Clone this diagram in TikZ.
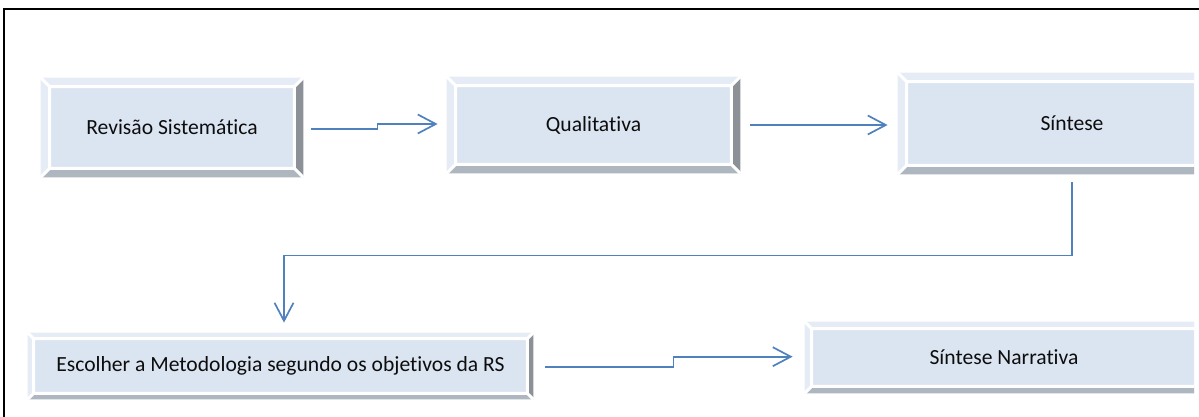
\documentclass[tikz,border=0pt]{standalone}
\usepackage{fontspec}
\setmainfont{Carlito}[Ligatures=NoCommon]
\usepackage{xcolor}
\usepackage{tikz}
\usetikzlibrary{arrows.meta,calc}
\definecolor{face}{HTML}{DBE5F1}
\definecolor{bevlt}{HTML}{E6ECF5}
\definecolor{bevgr}{HTML}{AEB6BF}
\definecolor{bevdk}{HTML}{8C9198}
\definecolor{arrblue}{HTML}{4F81BD}
\tikzset{
  box/.style={fill=face,inner sep=2pt,align=center,font=\fontsize{10.8}{13}\selectfont,text=black!95},
  arr/.style={-{Straight Barb[length=9pt,width=9.5pt]},line width=0.85pt,arrblue},
  bevline/.style={white,line width=1.5pt},
  frame/.style={black,line width=1pt},
}
\begin{document}
\begin{tikzpicture}[x=1pt,y=-1pt]
  \useasboundingbox (0,0) rectangle (599.5,208.5);
  \draw[frame] (2,208.5) |- (599.5,4.5);
  \begin{scope}
    \clip (0,0) rectangle (597,208.5);
    \node[box,minimum width=131pt,minimum height=49.5pt] (rs) at (86,63.75) {Revisão Sistemática};
    \node[box,minimum width=146.5pt,minimum height=48pt] (ql) at (296.75,62.5) {Qualitativa};
    \node[box,minimum width=174pt,minimum height=50.5pt] (sn) at (536,61.75) {Síntese};
    \node[box,minimum width=252.5pt,minimum height=33pt] (esc) at (140.25,183) {Escolher a Metodologia segundo os objetivos da RS};
    \node[box,minimum width=199pt,minimum height=35.5pt] (nar) at (502,178.75) {Síntese Narrativa};
    % bevel edges round each box
    \foreach \n/\b in {rs/4.5,ql/4.5,sn/4.5,esc/3,nar/3.5}{
      \coordinate (i1) at ($(\n.north west)+(\b,\b)$);
      \coordinate (i2) at ($(\n.north east)+(-\b,\b)$);
      \coordinate (i3) at ($(\n.south east)+(-\b,-\b)$);
      \coordinate (i4) at ($(\n.south west)+(\b,-\b)$);
      \fill[bevlt] (\n.north west) -- (\n.north east) -- (i2) -- (i1) -- cycle;
      \fill[bevlt] (\n.north west) -- (i1) -- (i4) -- (\n.south west) -- cycle;
      \fill[bevgr] (\n.south west) -- (i4) -- (i3) -- (\n.south east) -- cycle;
      \fill[bevdk] (\n.north east) -- (\n.south east) -- (i3) -- (i2) -- cycle;
      \draw[bevline] (i1) rectangle (i3) (\n.north west) -- (i1) (\n.north east) -- (i2)
        (\n.south east) -- (i3) (\n.south west) -- (i4);
    }
  \end{scope}
  \draw[arr] ($(rs.east)+(4,0.75)$) -- ++(33,0) |- ($(ql.west)+(-4.5,-0.5)$);
  \draw[arr] ($(ql.east)+(5,0)$) -- ($(ql.east -| sn.west)+(-5,0)$);
  \draw[arr] ($(sn.south)+(0,4)$) -- ++(0,36.5) -| ($(esc.north)+(1.75,-5)$);
  \draw[arr] ($(esc.east)+(6,0.35)$) -- ++(64,0) |- ($(nar.west)+(-6,-0.4)$);
\end{tikzpicture}
\end{document}
